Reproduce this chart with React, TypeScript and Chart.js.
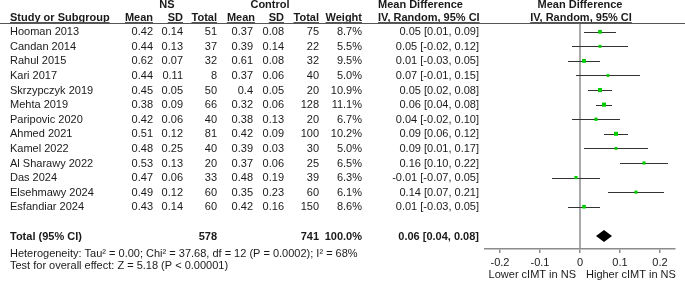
import React, { useEffect, useRef } from "react";
import { Chart, registerables } from "chart.js";
Chart.register(...registerables);

const studies = [
  "Hooman 2013", "Candan 2014", "Rahul 2015", "Kari 2017", "Skrzypczyk 2019", "Mehta 2019",
  "Paripovic 2020", "Ahmed 2021", "Kamel 2022", "Al Sharawy 2022", "Das 2024", "Elsehmawy 2024", "Esfandiar 2024",
];
const nsMean = [0.42, 0.44, 0.62, 0.44, 0.45, 0.38, 0.42, 0.51, 0.48, 0.53, 0.47, 0.49, 0.43];
const nsSD = [0.14, 0.13, 0.07, 0.11, 0.05, 0.09, 0.06, 0.12, 0.25, 0.13, 0.06, 0.12, 0.14];
const nsTotal = [51, 37, 32, 8, 50, 66, 40, 81, 40, 20, 33, 60, 60];
const ctrlMean = [0.37, 0.39, 0.61, 0.37, 0.4, 0.32, 0.38, 0.42, 0.39, 0.37, 0.48, 0.35, 0.42];
const ctrlSD = [0.08, 0.14, 0.08, 0.06, 0.05, 0.06, 0.13, 0.09, 0.03, 0.06, 0.19, 0.23, 0.16];
const ctrlTotal = [75, 22, 32, 40, 20, 128, 20, 100, 30, 25, 39, 60, 150];
const weights = [8.7, 5.5, 9.5, 5.0, 10.9, 11.1, 6.7, 10.2, 5.0, 6.5, 6.3, 6.1, 8.6];
const md = [0.05, 0.05, 0.01, 0.07, 0.05, 0.06, 0.04, 0.09, 0.09, 0.16, -0.01, 0.14, 0.01];
const ciLow = [0.01, -0.02, -0.03, -0.01, 0.02, 0.04, -0.02, 0.06, 0.01, 0.1, -0.07, 0.07, -0.03];
const ciHigh = [0.09, 0.12, 0.05, 0.15, 0.08, 0.08, 0.1, 0.12, 0.17, 0.22, 0.05, 0.21, 0.05];

const totalNS = 578;
const totalCtrl = 741;
const totalWeight = 100.0;
const totalMD = 0.06;
const totalLow = 0.04;
const totalHigh = 0.08;

const heterogeneityText = "Heterogeneity: Tau\u00b2 = 0.00; Chi\u00b2 = 37.68, df = 12 (P = 0.0002); I\u00b2 = 68%";
const overallText = "Test for overall effect: Z = 5.18 (P < 0.00001)";
const xTicks = [-0.2, -0.1, 0, 0.1, 0.2];
const leftLabel = "Lower cIMT in NS";
const rightLabel = "Higher cIMT in NS";

const FONT = 'Arial, "Liberation Sans", sans-serif';
const TEXT = "#1a1a1a";

export default function App() {
  const ref = useRef<HTMLCanvasElement>(null);

  useEffect(() => {
    document.body.style.margin = "0";
    const canvas = ref.current!;
    const rows = studies.map((_, i) => i + 1);
    const totalRow = studies.length + 2;
    const f2 = (v: number) => v.toFixed(2);
    const ciStr = (m: number, l: number, h: number) => `${f2(m)} [${f2(l)}, ${f2(h)}]`;

    const forestPlugin = {
      id: "forestPlugin",
      beforeDatasetsDraw(chart: any) {
        const { ctx, chartArea } = chart;
        const x = chart.scales.x;
        const y = chart.scales.y;
        ctx.save();
        const x0 = x.getPixelForValue(0);
        ctx.strokeStyle = "#8c8c8c";
        ctx.lineWidth = 1.5;
        ctx.beginPath();
        ctx.moveTo(x0, chartArea.top);
        ctx.lineTo(x0, chartArea.bottom);
        ctx.stroke();
        ctx.lineWidth = 1;
        rows.forEach((r, i) => {
          const py = Math.round(y.getPixelForValue(r)) + 0.5;
          ctx.strokeStyle = "#333";
          ctx.beginPath();
          ctx.moveTo(x.getPixelForValue(ciLow[i]), py);
          ctx.lineTo(x.getPixelForValue(ciHigh[i]), py);
          ctx.stroke();
        });
        // diamond for pooled estimate
        const dy = y.getPixelForValue(totalRow);
        ctx.fillStyle = "#000";
        ctx.beginPath();
        ctx.moveTo(x.getPixelForValue(totalLow), dy);
        ctx.lineTo(x.getPixelForValue(totalMD), dy - 6);
        ctx.lineTo(x.getPixelForValue(totalHigh), dy);
        ctx.lineTo(x.getPixelForValue(totalMD), dy + 6);
        ctx.closePath();
        ctx.fill();
        ctx.restore();
      },
      afterDraw(chart: any) {
        const { ctx, chartArea } = chart;
        const x = chart.scales.x;
        const y = chart.scales.y;
        ctx.save();
        ctx.textBaseline = "middle";
        ctx.fillStyle = TEXT;
        const txt = (s: string, px: number, py: number, align: CanvasTextAlign, bold = false) => {
          ctx.font = `${bold ? "bold " : ""}11px ${FONT}`;
          ctx.textAlign = align;
          ctx.fillText(s, px, py);
          return ctx.measureText(s).width;
        };
        // header line
        const top = Math.round(chartArea.top) + 0.5;
        ctx.strokeStyle = "#555";
        ctx.lineWidth = 1;
        ctx.beginPath();
        ctx.moveTo(0, top);
        ctx.lineTo(685, top);
        ctx.stroke();

        const h1 = 5;
        const h2 = 17.5;
        txt("NS", 167, h1, "center", true);
        txt("Control", 270, h1, "center", true);
        txt("Mean Difference", 378, h1, "left", true);
        txt("Mean Difference", 580, h1, "center", true);

        const underline = (x1: number, x2: number) => {
          ctx.beginPath();
          ctx.moveTo(x1, top - 1);
          ctx.lineTo(x2, top - 1);
          ctx.stroke();
        };
        const hdr = (s: string, px: number, align: CanvasTextAlign) => {
          const w = txt(s, px, h2, align, true);
          const x1 = align === "left" ? px : align === "right" ? px - w : px - w / 2;
          underline(x1, x1 + w);
        };
        hdr("Study or Subgroup", 10, "left");
        hdr("Mean", 153, "right");
        hdr("SD", 183, "right");
        hdr("Total", 217, "right");
        hdr("Mean", 255, "right");
        hdr("SD", 284, "right");
        hdr("Total", 319, "right");
        hdr("Weight", 362, "right");
        hdr("IV, Random, 95% CI", 378, "left");
        hdr("IV, Random, 95% CI", 581, "center");

        rows.forEach((r, i) => {
          const py = y.getPixelForValue(r) + 0.5;
          txt(studies[i], 10, py, "left");
          txt(String(nsMean[i]), 153, py, "right");
          txt(String(nsSD[i]), 183, py, "right");
          txt(String(nsTotal[i]), 217, py, "right");
          txt(String(ctrlMean[i]), 253, py, "right");
          txt(String(ctrlSD[i]), 284, py, "right");
          txt(String(ctrlTotal[i]), 319, py, "right");
          txt(weights[i].toFixed(1) + "%", 362, py, "right");
          txt(ciStr(md[i], ciLow[i], ciHigh[i]), 479, py, "right");
        });

        const ty = y.getPixelForValue(totalRow) + 1;
        txt("Total (95% CI)", 10, ty, "left", true);
        txt(String(totalNS), 217, ty, "right", true);
        txt(String(totalCtrl), 319, ty, "right", true);
        txt(totalWeight.toFixed(1) + "%", 362, ty, "right", true);
        txt(ciStr(totalMD, totalLow, totalHigh), 479, ty, "right", true);

        txt(heterogeneityText, 10, chartArea.bottom + 5, "left");
        txt(overallText, 10, chartArea.bottom + 17, "left");

        const x0 = x.getPixelForValue(0);
        txt(leftLabel, x0 - 4, chartArea.bottom + 25.5, "right");
        txt(rightLabel, x0 + 6, chartArea.bottom + 25.5, "left");
        ctx.restore();
      },
    };

    const chart = new Chart(canvas, {
      type: "scatter",
      data: {
        datasets: [
          {
            data: rows.map((r, i) => ({ x: md[i], y: r })),
            pointStyle: "rect",
            pointRadius: weights.map((w) => (1.25 * Math.sqrt(w)) / Math.SQRT2),
            pointBackgroundColor: "#00cc00",
            pointBorderWidth: 0,
            pointBorderColor: "#00cc00",
          },
        ],
      },
      options: {
        responsive: false,
        animation: false,
        events: [],
        layout: { padding: { left: 485, right: 10, top: 23, bottom: 0 } },
        plugins: { legend: { display: false }, tooltip: { enabled: false } },
        scales: {
          x: {
            type: "linear",
            min: -0.2375,
            max: 0.2375,
            afterBuildTicks: (s: any) => {
              s.ticks = xTicks.map((v) => ({ value: v }));
            },
            afterFit: (s: any) => {
              s.height = 32;
            },
            grid: { drawOnChartArea: false, drawTicks: true, tickLength: 4, color: "#8c8c8c", lineWidth: 1.5 },
            border: { display: true, color: "#8c8c8c", width: 1.5 },
            ticks: {
              font: { family: FONT, size: 11 },
              color: TEXT,
              padding: 3,
              maxRotation: 0,
              autoSkip: false,
              callback: (v: any) => String(Math.round(Number(v) * 10) / 10),
            },
          },
          y: { type: "linear", min: 0.4, max: 15.9, reverse: true, display: false },
        },
      },
      plugins: [forestPlugin],
    });
    return () => chart.destroy();
  }, []);

  return <canvas ref={ref} width={685} height={281} style={{ display: "block" }} />;
}
